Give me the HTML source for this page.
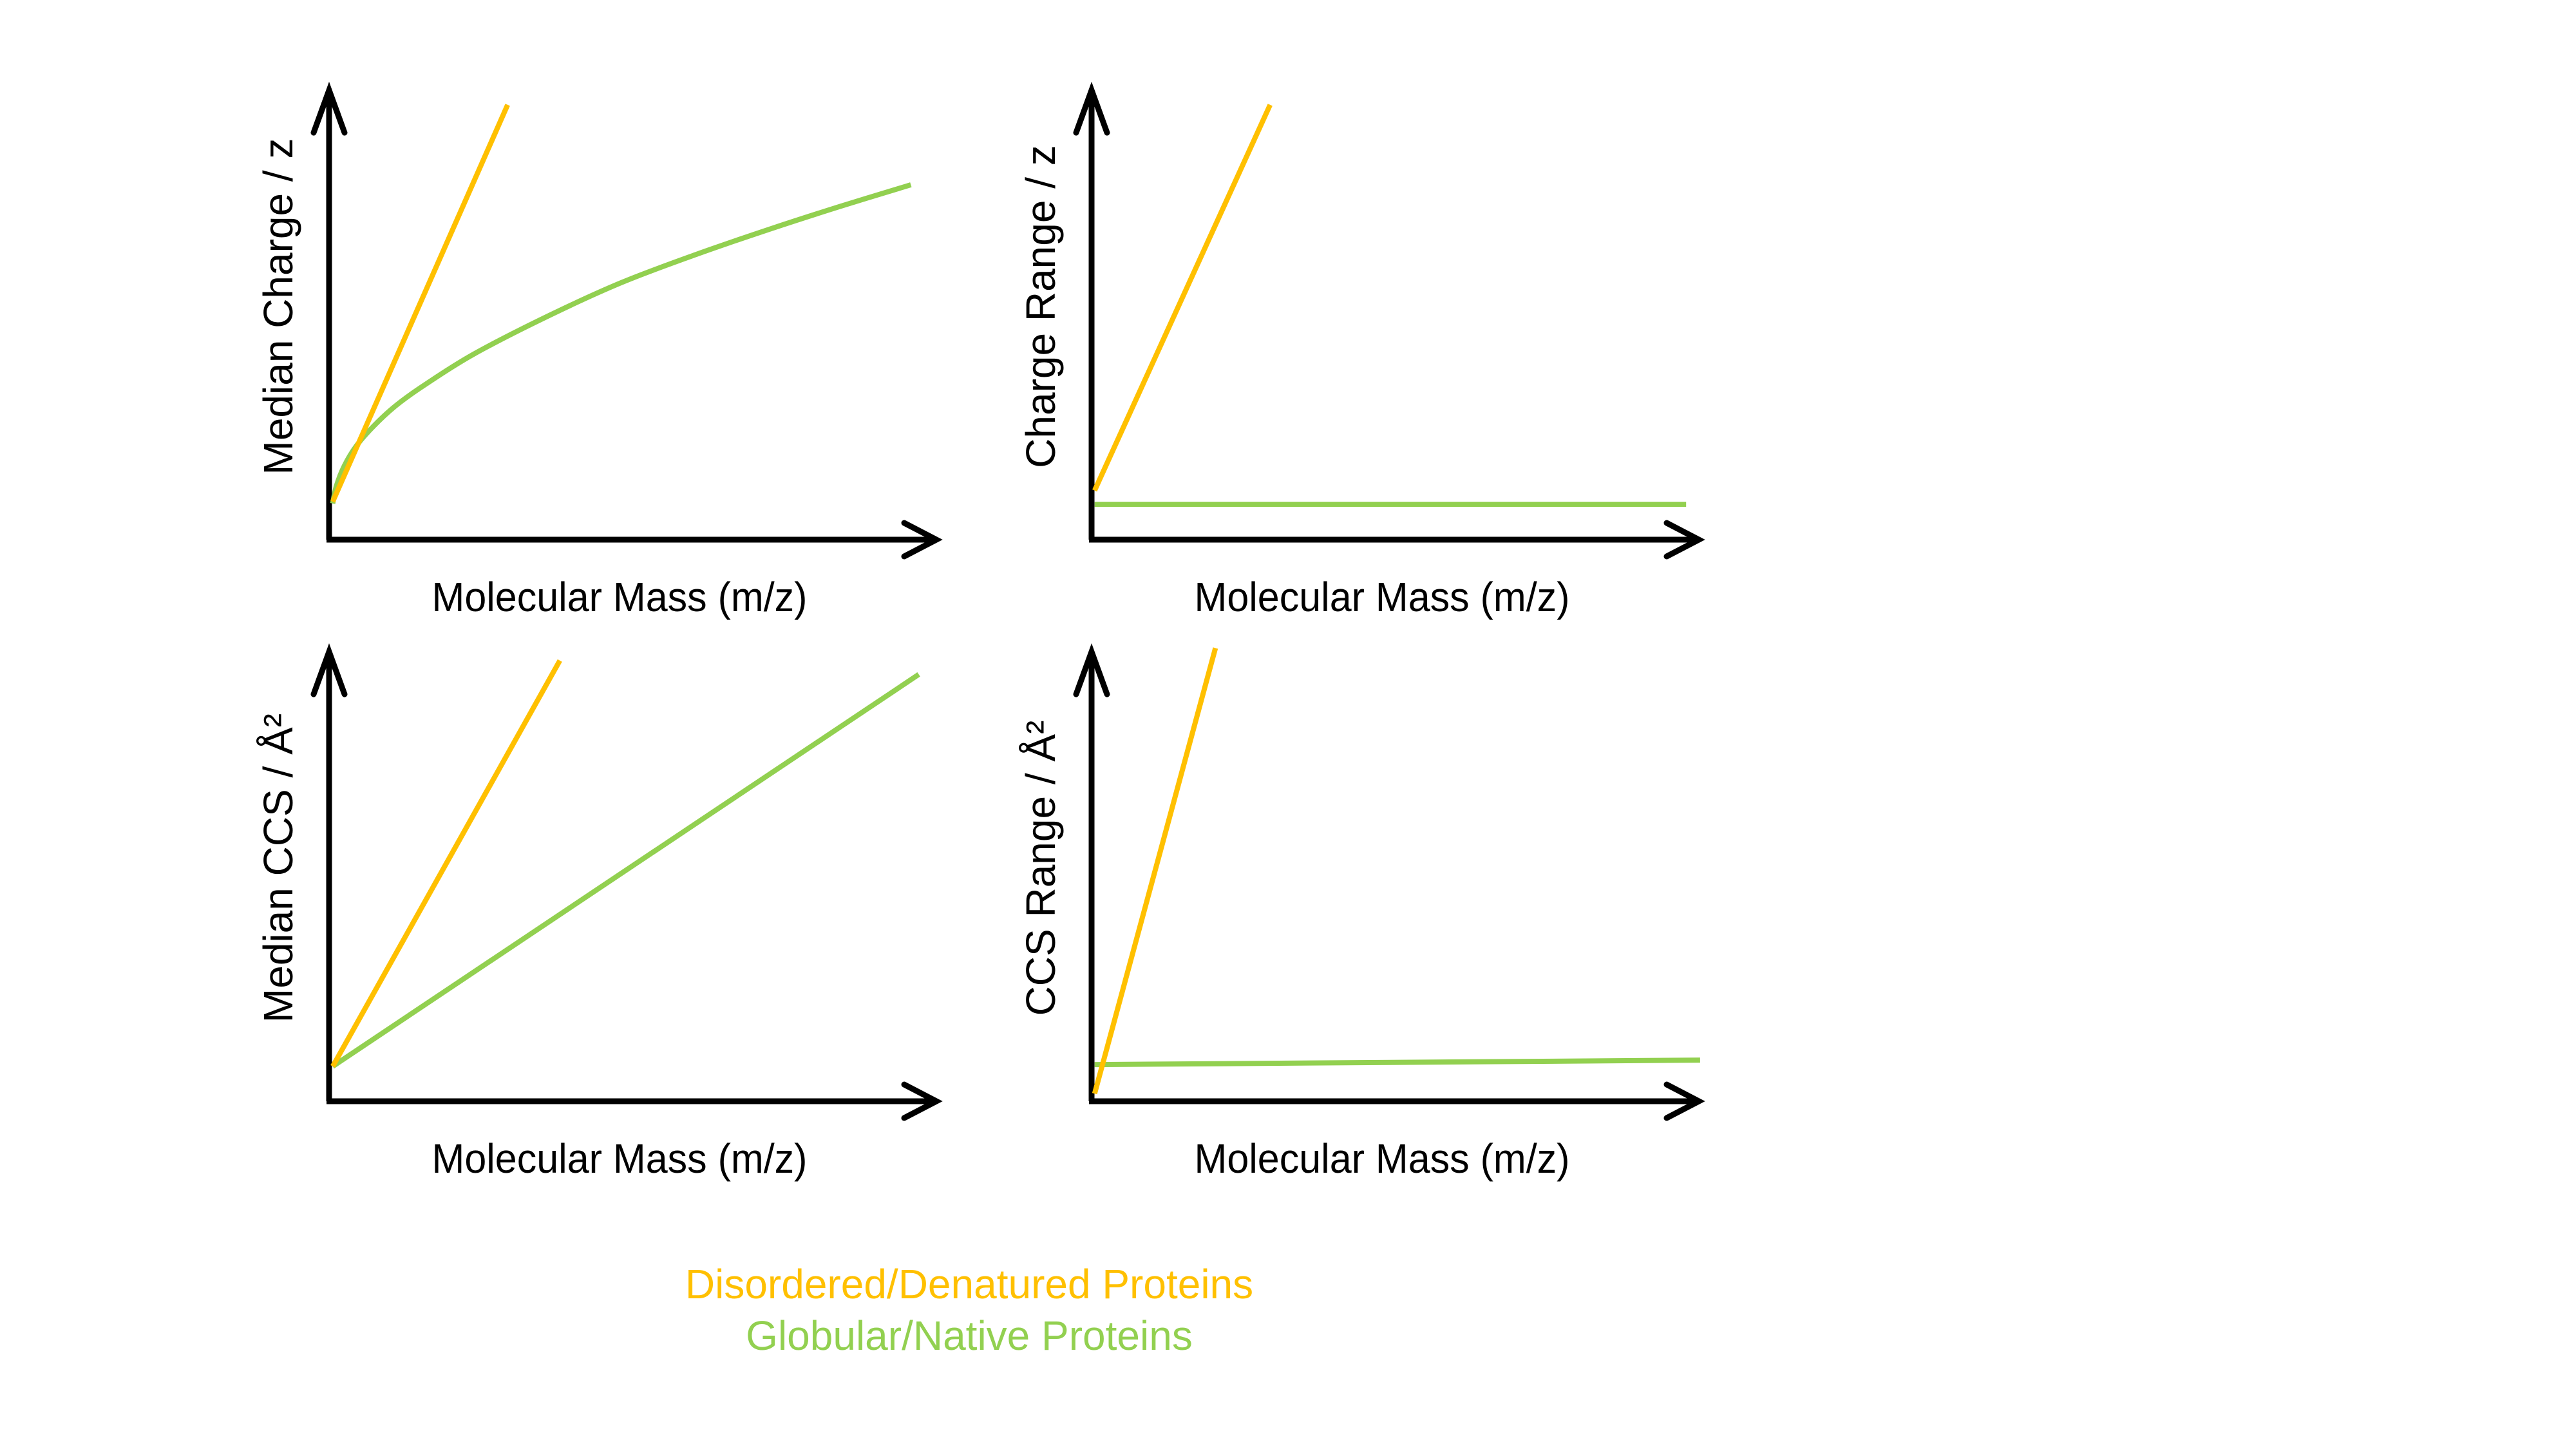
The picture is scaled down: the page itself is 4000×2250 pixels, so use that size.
<!DOCTYPE html>
<html><head><meta charset="utf-8"><style>
html,body{margin:0;padding:0;background:#fff;}
svg{display:block;}
text{font-family:"Liberation Sans",sans-serif;fill:#000;}
</style></head>
<body>
<svg id="chart" width="4000" height="2250" viewBox="0 0 4000 2250" xmlns="http://www.w3.org/2000/svg">
<rect x="0" y="0" width="4000" height="2250" fill="#fff"/>
</svg>
<script>
// Panel data (domain 0..100 on each axis, schematic units)
const panelNames = ["median-charge", "charge-range", "median-ccs", "ccs-range"];
const yTitles = ["Median Charge / z", "Charge Range / z", "Median CCS / Å²", "CCS Range / Å²"];
const xTitles = ["Molecular Mass (m/z)", "Molecular Mass (m/z)", "Molecular Mass (m/z)", "Molecular Mass (m/z)"];
const disorderedX = [[0.6, 29.4], [0.5, 29.4], [0.6, 38.0], [0.5, 20.4]];
const disorderedY = [[8.5, 97.3], [11.0, 97.3], [7.8, 98.6], [1.7, 101.4]];
const globularX = [[0.6, 1.2, 2.5, 4.5, 7.4, 11.0, 15.6, 23.8, 36.0, 48.1, 60.4, 72.6, 84.0, 95.8], [0.5, 97.9], [0.6, 97.1], [0.5, 100.2]];
const globularY = [[8.1, 12.0, 16.5, 21.0, 25.5, 30.0, 34.5, 41.5, 50.0, 57.5, 63.8, 69.5, 74.5, 79.4], [7.9, 7.9], [7.8, 95.5], [8.2, 9.2]];
const legendLabels = ["Disordered/Denatured Proteins", "Globular/Native Proteins"];

const NS = "http://www.w3.org/2000/svg";
const svg = document.getElementById("chart");
const ORIGINS = [[511, 838], [1695, 838], [511, 1710], [1695, 1710]];
const PW = 943, PH = 694;
const ORANGE = "#FFC000", GREEN = "#92D050";

function mk(tag, attrs, parent) {
  const e = document.createElementNS(NS, tag);
  for (const k in attrs) e.setAttribute(k, attrs[k]);
  (parent || svg).appendChild(e);
  return e;
}
function sx(p, v) { return ORIGINS[p][0] + v / 100 * PW; }
function sy(p, v) { return ORIGINS[p][1] - v / 100 * PH; }

function smoothPath(pts) {
  if (pts.length < 3) return "M" + pts.map(q => q.join(",")).join(" L");
  let d = "M" + pts[0][0] + "," + pts[0][1];
  for (let i = 0; i < pts.length - 1; i++) {
    const p0 = pts[Math.max(0, i - 1)], p1 = pts[i], p2 = pts[i + 1], p3 = pts[Math.min(pts.length - 1, i + 2)];
    const c1x = p1[0] + (p2[0] - p0[0]) / 6, c1y = p1[1] + (p2[1] - p0[1]) / 6;
    const c2x = p2[0] - (p3[0] - p1[0]) / 6, c2y = p2[1] - (p3[1] - p1[1]) / 6;
    d += " C" + c1x + "," + c1y + " " + c2x + "," + c2y + " " + p2[0] + "," + p2[1];
  }
  return d;
}

for (let p = 0; p < 4; p++) {
  const g = mk("g", {});
  
  
  const [ox, oy] = ORIGINS[p];
  const ya = mk("path", {d: `M${ox},${oy} L${ox},${oy - PH - 4}`, stroke: "#000", "stroke-width": 9, fill: "none"}, g);
  
  
  const yh = mk("path", {d: `M${ox - 24},${oy - PH + 62} L${ox},${oy - PH - 4} L${ox + 24},${oy - PH + 62}`, stroke: "#000", "stroke-width": 9, fill: "none", "stroke-linecap": "round"}, g);
  
  
  const xa = mk("path", {d: `M${ox - 4},${oy} L${ox + PW},${oy}`, stroke: "#000", "stroke-width": 9, fill: "none"}, g);
  
  
  const xh = mk("path", {d: `M${ox + PW - 50},${oy - 26} L${ox + PW},${oy} L${ox + PW - 50},${oy + 26}`, stroke: "#000", "stroke-width": 9, fill: "none", "stroke-linecap": "round"}, g);
  
  
  const gp = globularX[p].map((v, i) => [sx(p, v), sy(p, globularY[p][i])]);
  const gl = mk("path", {d: smoothPath(gp), stroke: GREEN, "stroke-width": 8, fill: "none"}, g);
  
  
  const dp = disorderedX[p].map((v, i) => [sx(p, v), sy(p, disorderedY[p][i])]);
  const dl = mk("path", {d: smoothPath(dp), stroke: ORANGE, "stroke-width": 8, fill: "none"}, g);
  
  
  const xt = mk("text", {x: ox + 451, y: oy + 111, "font-size": 64, "text-anchor": "middle", textLength: 583, lengthAdjust: "spacingAndGlyphs"}, g);
  xt.textContent = xTitles[p];
  
  
  const cx = ox - 80, cy = oy - 362;
  const yt = mk("text", {x: cx, y: cy + 23, "font-size": 64, "text-anchor": "middle", transform: `rotate(-90 ${cx} ${cy})`}, g);
  yt.textContent = yTitles[p];
  
  
}

const lg = mk("g", {});


const legendColors = [ORANGE, GREEN];
const legendY = [2016, 2096];
for (let i = 0; i < legendLabels.length; i++) {
  const t = mk("text", {x: 1505, y: legendY[i], "font-size": 64, "text-anchor": "middle", fill: legendColors[i]}, lg);
  t.style.fill = legendColors[i];
  t.textContent = legendLabels[i];
  
  
}
</script>
</body></html>
